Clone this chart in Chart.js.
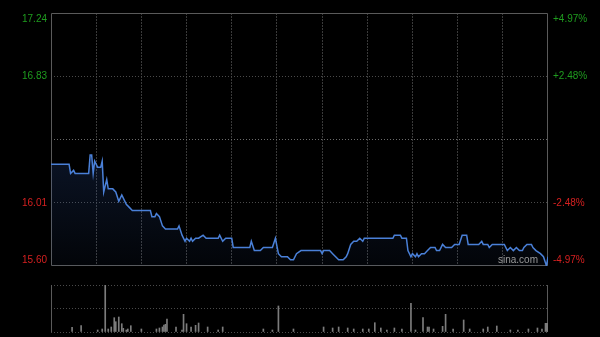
<!DOCTYPE html>
<html>
<head>
<meta charset="utf-8">
<script src="https://cdn.jsdelivr.net/npm/chart.js@4.4.1/dist/chart.umd.min.js"></script>
<style>
  html, body { margin: 0; padding: 0; background: #000; }
  #priceBox { position: absolute; left: 0; top: 0; width: 600px; height: 275px; }
  #volBox { position: absolute; left: 0; top: 275px; width: 600px; height: 62px; }
  #mark { position: absolute; left: 498px; top: 254px; font: 10px Arial, "Liberation Sans", sans-serif; color: #9a9a9a; }
</style>
</head>
<body>
<div id="priceBox"><canvas id="priceChart"></canvas></div>
<div id="volBox"><canvas id="volChart"></canvas></div>
<div id="mark">sina.com</div>
<script>
// minutes since 9:30 (HK session, lunch removed) and last price
const minutes = [
  0, 12, 13, 15, 16, 25, 26, 27, 28, 29,
  31, 33, 34, 35, 37, 38, 41, 43, 45, 47,
  50, 52, 54, 66, 67, 69, 70, 72, 74, 76,
  84, 85, 87, 89, 90, 92, 93, 94, 96, 98,
  101, 103, 111, 112, 114, 116, 120, 121, 129, 132,
  133, 135, 139, 141, 147, 149, 151, 153, 157, 159,
  161, 163, 166, 179, 180, 181, 185, 187, 189, 191,
  194, 196, 197, 199, 201, 203, 205, 207, 208, 210,
  227, 228, 232, 233, 236, 237, 239, 240, 242, 243,
  244, 246, 248, 250, 252, 255, 256, 258, 260, 262,
  266, 268, 271, 273, 276, 277, 284, 286, 287, 290,
  291, 293, 301, 303, 305, 307, 309, 311, 313, 314,
  316, 319, 320, 322, 325, 327, 329, 330
];
const prices = [
  16.26, 16.26, 16.20, 16.22, 16.20, 16.20, 16.32, 16.32, 16.20, 16.28,
  16.24, 16.24, 16.28, 16.08, 16.16, 16.10, 16.10, 16.08, 16.02, 16.06,
  16.00, 15.98, 15.96, 15.96, 15.92, 15.92, 15.94, 15.92, 15.86, 15.84,
  15.84, 15.86, 15.80, 15.76, 15.78, 15.76, 15.78, 15.76, 15.78, 15.78,
  15.80, 15.78, 15.78, 15.80, 15.76, 15.78, 15.78, 15.72, 15.72, 15.72,
  15.76, 15.70, 15.70, 15.72, 15.72, 15.78, 15.68, 15.66, 15.66, 15.64,
  15.64, 15.68, 15.70, 15.70, 15.68, 15.70, 15.70, 15.68, 15.66, 15.64,
  15.64, 15.66, 15.68, 15.74, 15.76, 15.76, 15.78, 15.76, 15.78, 15.78,
  15.78, 15.80, 15.80, 15.78, 15.78, 15.70, 15.66, 15.68, 15.66, 15.68,
  15.66, 15.68, 15.68, 15.70, 15.72, 15.72, 15.70, 15.70, 15.74, 15.72,
  15.72, 15.74, 15.74, 15.80, 15.80, 15.74, 15.74, 15.76, 15.74, 15.74,
  15.72, 15.74, 15.74, 15.70, 15.72, 15.70, 15.72, 15.70, 15.70, 15.72,
  15.74, 15.74, 15.72, 15.70, 15.68, 15.66, 15.60, 15.66
];

const prevClose = 16.42;
const priceTicks = [15.60, 16.01, 16.42, 16.83, 17.24];
const priceLabels = ['15.60', '16.01', '', '16.83', '17.24'];
const pctLabels = ['-4.97%', '-2.48%', '', '+2.48%', '+4.97%'];

// volume bars (relative units, no axis labels on the source)
const volMinutes = [
  14, 20, 31, 34, 36, 38, 40, 42, 43, 45,
  47, 48, 50, 51, 53, 60, 70, 72, 74, 75,
  76, 77, 83, 87, 88, 90, 93, 96, 98, 104,
  111, 114, 141, 147, 151, 161, 181, 187, 191, 197,
  201, 207, 211, 215, 219, 223, 228, 233, 239, 242,
  247, 250, 251, 254, 260, 262, 267, 274, 278, 287,
  290, 296, 305, 310, 317, 323, 326
];
const volValues = [
  47, 63, 20, 30, 470, 30, 50, 143, 103, 150,
  83, 37, 20, 30, 63, 30, 30, 40, 50, 70,
  77, 130, 50, 20, 177, 83, 50, 67, 90, 50,
  20, 50, 30, 20, 260, 30, 50, 40, 50, 40,
  30, 30, 30, 93, 40, 20, 40, 30, 287, 20,
  143, 50, 50, 30, 57, 177, 30, 120, 30, 30,
  50, 60, 20, 20, 30, 40, 30
];
const closeAuctionMinute = 329;
const closeAuctionVolume = 87;

const GREEN = '#1f9c1f';
const RED = '#d42020';
const FONT = '10px Arial, "Liberation Sans", sans-serif';

const framePlugin = {
    id: 'frame',
    beforeDatasetsDraw(chart, args, opts) {
        const a = chart.chartArea;
        const ctx = chart.ctx;
        ctx.save();
        ctx.strokeStyle = opts.color || '#555';
        ctx.lineWidth = 1;
        ctx.beginPath();
        if (opts.full) {
            ctx.rect(a.left + 0.5, a.top + 0.5, a.right - a.left - 1, a.bottom - a.top - 1);
        } else {
            ctx.moveTo(a.left + 0.5, a.top);
            ctx.lineTo(a.left + 0.5, a.bottom);
            ctx.moveTo(a.right - 0.5, a.top);
            ctx.lineTo(a.right - 0.5, a.bottom);
        }
        ctx.stroke();
        ctx.restore();
    }
};

// side labels, kept inside the frame at the top and bottom edges
const sideLabels = {
    id: 'sideLabels',
    afterDraw(chart) {
        const y = chart.scales.y;
        const a = chart.chartArea;
        const ctx = chart.ctx;
        ctx.save();
        ctx.font = FONT;
        ctx.textBaseline = 'middle';
        priceTicks.forEach((v, i) => {
            if (!priceLabels[i]) return;
            let py = y.getPixelForValue(v);
            py = Math.min(Math.max(py, a.top + 6), a.bottom - 6);
            ctx.fillStyle = v > prevClose ? GREEN : RED;
            ctx.textAlign = 'right';
            ctx.fillText(priceLabels[i], a.left - 4, py);
            ctx.textAlign = 'left';
            ctx.fillText(pctLabels[i], a.right + 5, py);
        });
        ctx.restore();
    }
};

const pricePoints = minutes.map((m, i) => ({ x: m, y: prices[i] }));

new Chart(document.getElementById('priceChart'), {
    type: 'line',
    data: {
        datasets: [{
            data: pricePoints,
            borderColor: '#4a80d8',
            borderWidth: 1.5,
            pointRadius: 0,
            tension: 0,
            fill: 'start',
            backgroundColor: function(context) {
                const area = context.chart.chartArea;
                if (!area) return 'rgba(50,90,170,0.1)';
                const g = context.chart.ctx.createLinearGradient(0, area.top + 140, 0, area.bottom);
                g.addColorStop(0, 'rgba(50,90,170,0.22)');
                g.addColorStop(1, 'rgba(50,90,170,0.05)');
                return g;
            }
        }]
    },
    options: {
        responsive: true,
        maintainAspectRatio: false,
        animation: false,
        layout: { padding: { top: 13, bottom: 9, left: 0, right: 52 } },
        plugins: { legend: { display: false }, tooltip: { enabled: false }, frame: { full: true, color: '#5a5a5a' } },
        scales: {
            x: {
                type: 'linear',
                min: 0,
                max: 330,
                ticks: { stepSize: 30, display: false },
                grid: {
                    drawTicks: false,
                    color: ctx => (ctx.tick.value <= 0 || ctx.tick.value >= 330) ? 'transparent' : '#3a3a3a'
                },
                border: { display: false, dash: [2, 1] },
                afterFit: s => { s.height = 0; }
            },
            y: {
                min: priceTicks[0],
                max: priceTicks[priceTicks.length - 1],
                afterBuildTicks: s => { s.ticks = priceTicks.map(v => ({ value: v })); },
                ticks: { display: false },
                grid: {
                    drawTicks: false,
                    color: ctx => {
                        const v = ctx.tick.value;
                        if (v === priceTicks[0] || v === priceTicks[priceTicks.length - 1]) return 'transparent';
                        return v === prevClose ? '#6a6a6a' : '#4a4a4a';
                    }
                },
                border: { display: false, dash: [1, 2] },
                afterFit: s => { s.width = 51; }
            }
        }
    },
    plugins: [framePlugin, sideLabels]
});

const volPoints = volMinutes.map((m, i) => ({ x: m, y: volValues[i] }));

new Chart(document.getElementById('volChart'), {
    type: 'bar',
    data: {
        datasets: [{
            data: volPoints,
            backgroundColor: '#7c7c7c',
            barThickness: 1,
            grouped: false
        }, {
            data: [{ x: closeAuctionMinute, y: closeAuctionVolume }],
            backgroundColor: '#7c7c7c',
            barThickness: 3,
            grouped: false
        }]
    },
    options: {
        responsive: true,
        maintainAspectRatio: false,
        animation: false,
        layout: { padding: { top: 10, bottom: 5, left: 0, right: 52 } },
        plugins: { legend: { display: false }, tooltip: { enabled: false }, frame: { full: false, color: '#5a5a5a' } },
        scales: {
            x: {
                type: 'linear',
                min: 0,
                max: 330,
                offset: false,
                display: false
            },
            y: {
                min: 0,
                max: 470,
                ticks: { stepSize: 235, display: false },
                grid: { drawTicks: false, color: '#4a4a4a' },
                border: { display: false, dash: [1, 2] },
                afterFit: s => { s.width = 51; }
            }
        }
    },
    plugins: [framePlugin]
});
</script>
</body>
</html>
